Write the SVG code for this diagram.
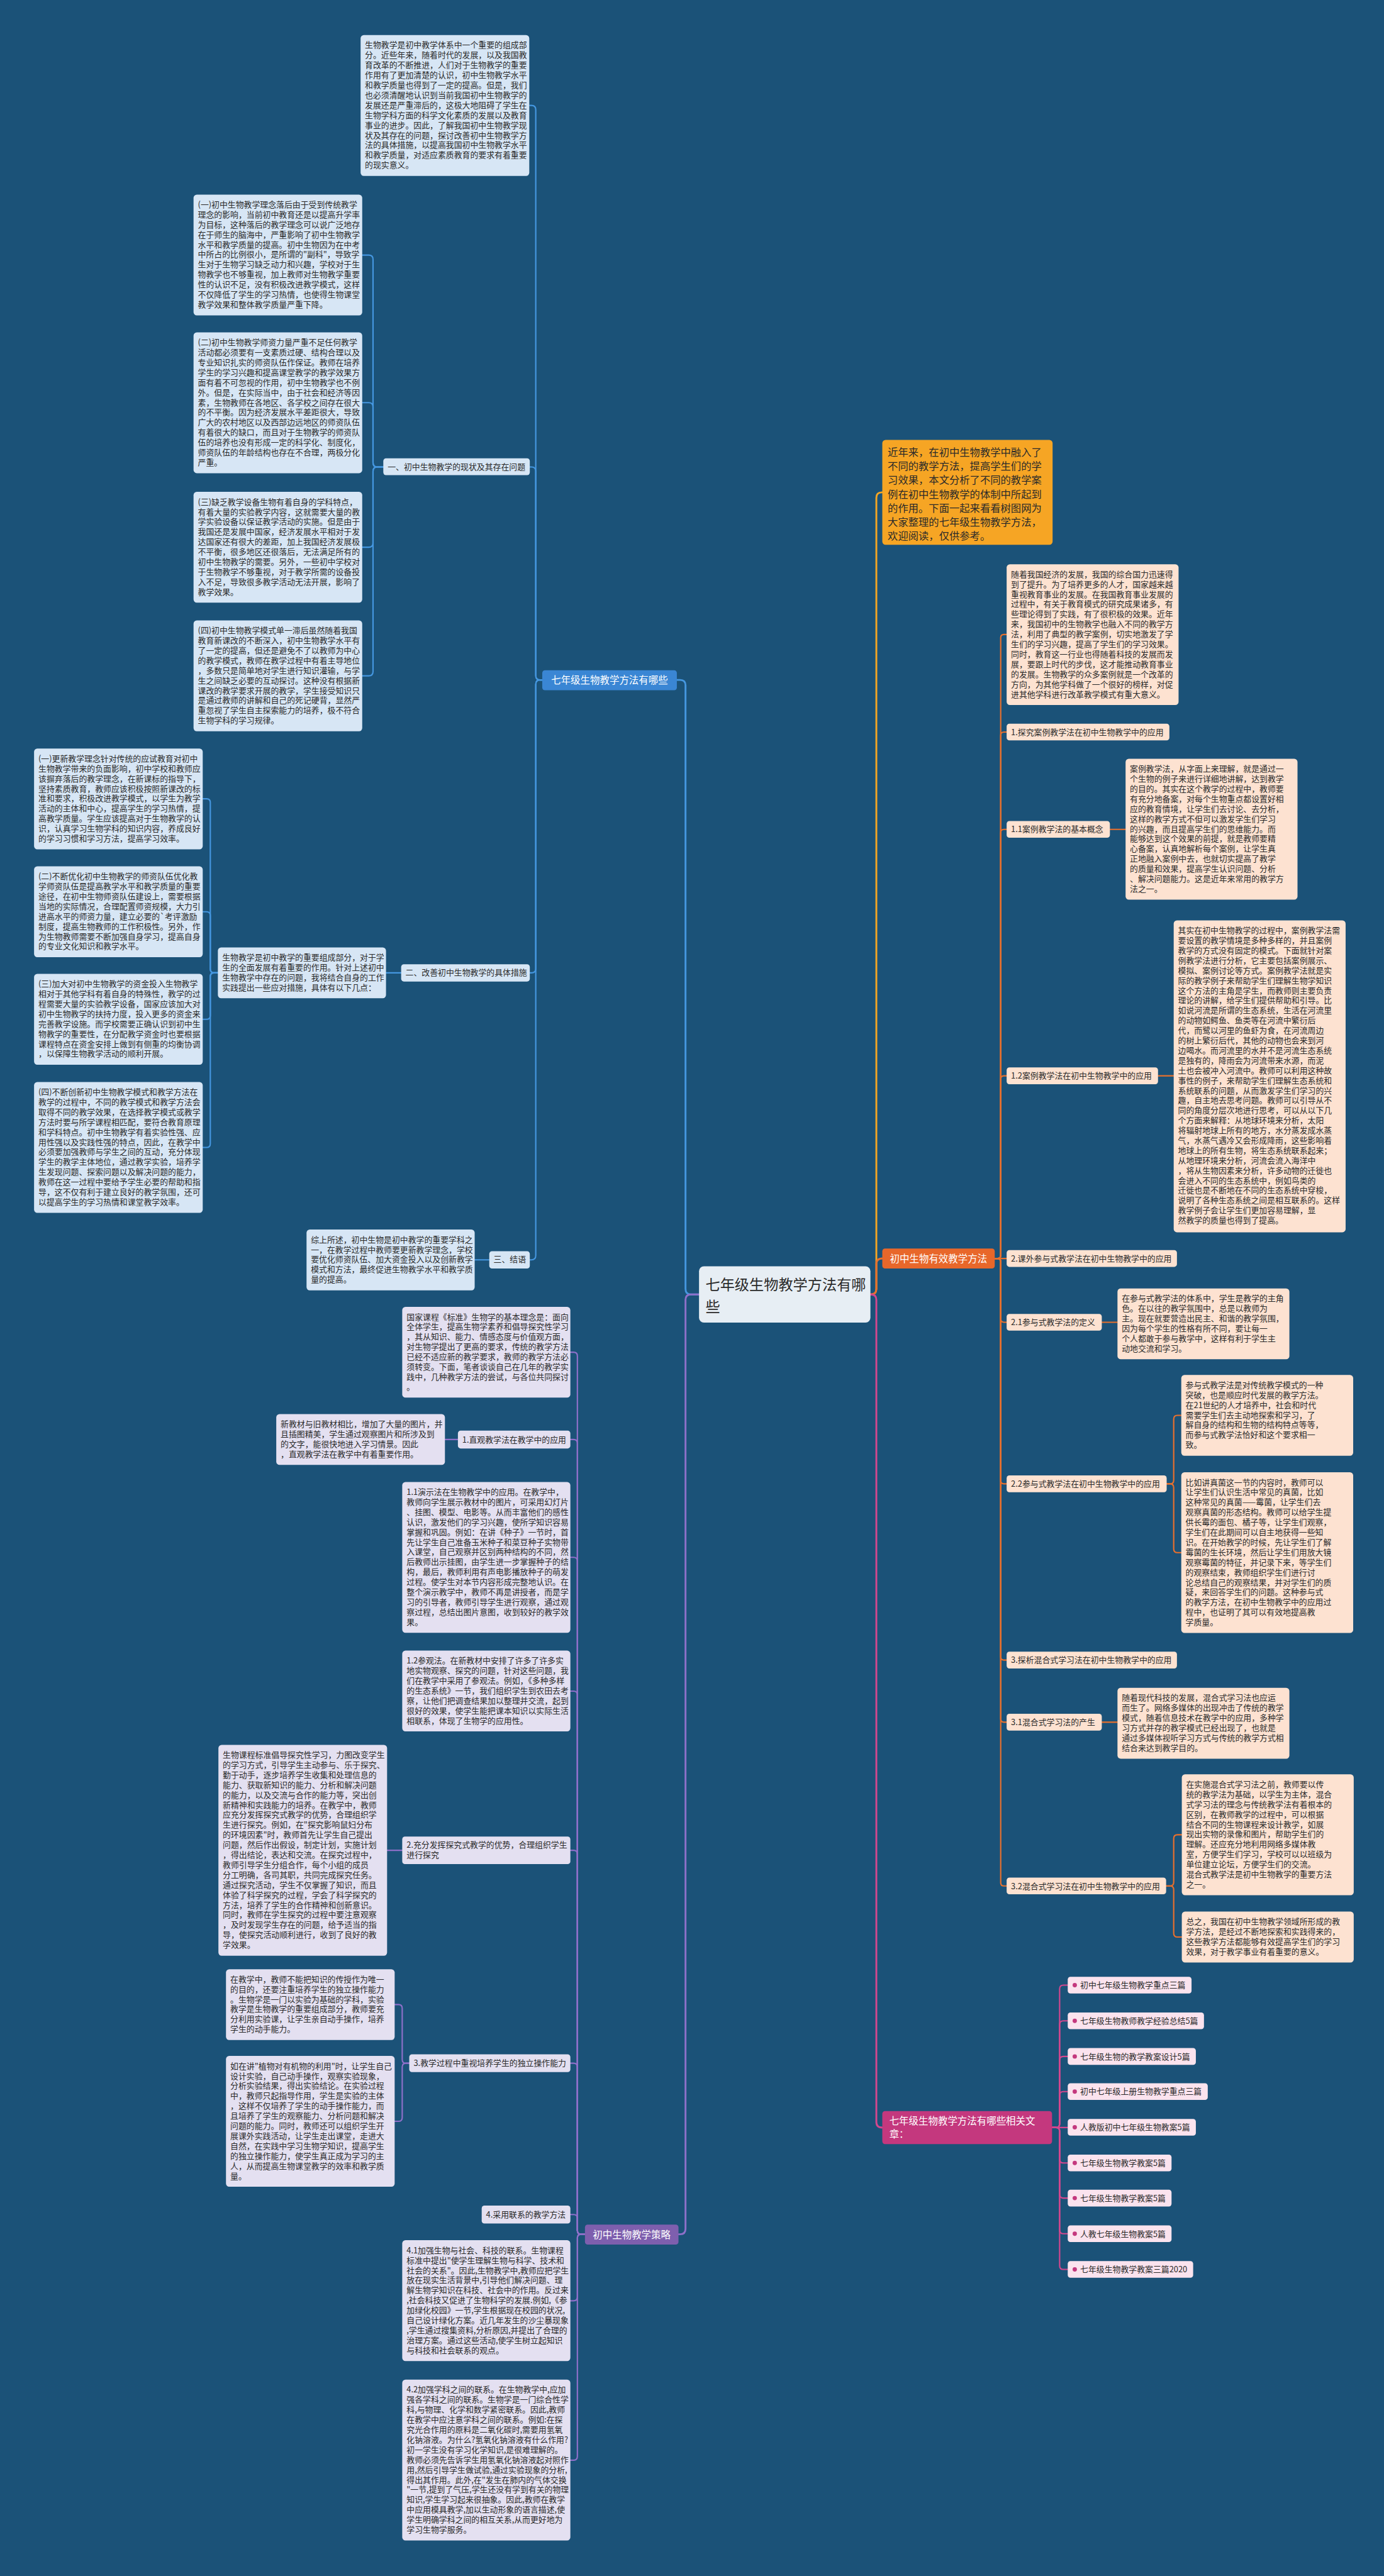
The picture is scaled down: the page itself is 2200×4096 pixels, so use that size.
<svg xmlns="http://www.w3.org/2000/svg" width="2200" height="4096" viewBox="0 0 2200 4096">
<defs>
<style>
.t{font-family:"Noto Sans CJK SC","Noto Sans",sans-serif;font-size:15px;fill:#2a2a2a}
.tw{font-family:"Noto Sans CJK SC","Noto Sans",sans-serif;font-size:18px;fill:#ffffff}
.bb{fill:#d7e6f5}
.pb{fill:#e4e0f1}
.ob{fill:#fde2d1}
.kb{fill:#fbe3ee}
.cb{fill:none;stroke-width:2.5;stroke-linecap:round}
.cB{stroke:#4597e0}
.cP{stroke:#8e70c9}
.cO{stroke:#e8702d}
.cK{stroke:#d4478e}
.cY{stroke:#f5a623}
.main{fill:none;stroke-width:3.4;stroke-linecap:round}
</style>
</defs>
<rect x="0" y="0" width="2200" height="4096" fill="#1b5278"/>
<g transform="scale(0.859375)">

<g id="connectors">
<path class="main cB" d="M1293 2395 H1278 Q1268 2395 1268 2385 V1268 Q1268 1258 1258 1258 H1252"/>
<path class="main cP" d="M1293 2395 H1278 Q1268 2395 1268 2405 V4124 Q1268 4134 1258 4134 H1255"/>
<path class="main cY" d="M1610 2395 H1611 Q1621 2395 1621 2385 V921 Q1621 911 1631 911 H1632"/>
<path class="main cO" d="M1610 2395 H1611 Q1621 2395 1621 2385 V2339 Q1621 2328.5 1632 2328.5"/>
<path class="main cK" d="M1610 2395 H1611 Q1621 2395 1621 2405 V3926 Q1621 3936.5 1632 3936.5"/>

<path class="cb cB" d="M1003 1258 H999 Q991 1258 991 1250 V203 Q991 195 983 195 H980"/>
<path class="cb cB" d="M1003 1258 H999 Q991 1258 991 1250 V872 Q991 864 983 864 H980"/>
<path class="cb cB" d="M1003 1258 H999 Q991 1258 991 1266 V1792 Q991 1800 983 1800 H980"/>
<path class="cb cB" d="M1003 1258 H999 Q991 1258 991 1266 V2323 Q991 2331 983 2331 H980"/>
<path class="cb cB" d="M709 864 H698 Q690 864 690 856 V480 Q690 472 682 472 H670"/>
<path class="cb cB" d="M709 864 H698 Q690 864 690 856 V753 Q690 745 682 745 H670"/>
<path class="cb cB" d="M709 864 H698 Q690 864 690 872 V1004.5 Q690 1012.5 682 1012.5 H670"/>
<path class="cb cB" d="M709 864 H698 Q690 864 690 872 V1242.5 Q690 1250.5 682 1250.5 H670"/>
<path class="cb cB" d="M742 1800 H714"/>
<path class="cb cB" d="M403 1800 H396 Q389 1800 389 1793 V1485 Q389 1478 382 1478 H375"/>
<path class="cb cB" d="M403 1800 H396 Q389 1800 389 1793 V1694 Q389 1687 382 1687 H375"/>
<path class="cb cB" d="M403 1800 H396 Q389 1800 389 1807 V1879 Q389 1886 382 1886 H375"/>
<path class="cb cB" d="M403 1800 H396 Q389 1800 389 1807 V2116 Q389 2123 382 2123 H375"/>
<path class="cb cB" d="M905 2331 H878"/>

<path class="cb cP" d="M1082 4134 H1075 Q1068 4134 1068 4127 V2509 Q1068 2502 1061 2502 H1055"/>
<path class="cb cP" d="M1082 4134 H1075 Q1068 4134 1068 4127 V2670.5 Q1068 2663.5 1061 2663.5 H1055"/>
<path class="cb cP" d="M1082 4134 H1075 Q1068 4134 1068 4127 V2888.5 Q1068 2881.5 1061 2881.5 H1055"/>
<path class="cb cP" d="M1082 4134 H1075 Q1068 4134 1068 4127 V3136 Q1068 3129 1061 3129 H1055"/>
<path class="cb cP" d="M1082 4134 H1075 Q1068 4134 1068 4127 V3430.5 Q1068 3423.5 1061 3423.5 H1055"/>
<path class="cb cP" d="M1082 4134 H1075 Q1068 4134 1068 4127 V3824.5 Q1068 3817.5 1061 3817.5 H1055"/>
<path class="cb cP" d="M1082 4134 H1075 Q1068 4134 1068 4127 V4104.5 Q1068 4097.5 1061 4097.5 H1055"/>
<path class="cb cP" d="M1082 4134 H1075 Q1068 4134 1068 4141 V4250 Q1068 4257 1061 4257 H1055"/>
<path class="cb cP" d="M1082 4134 H1075 Q1068 4134 1068 4141 V4545 Q1068 4552 1061 4552 H1055"/>
<path class="cb cP" d="M847 2663.5 H823"/>
<path class="cb cP" d="M744 3423.5 H716"/>
<path class="cb cP" d="M757 3817.5 H751 Q744 3817.5 744 3810.5 V3716 Q744 3709 737 3709 H730"/>
<path class="cb cP" d="M757 3817.5 H751 Q744 3817.5 744 3824.5 V3918 Q744 3925 737 3925 H730"/>

<path class="cb cO" d="M1840 2328.5 H1845 Q1851 2328.5 1851 2322.5 V1180 Q1851 1174 1857 1174 H1862"/>
<path class="cb cO" d="M1840 2328.5 H1845 Q1851 2328.5 1851 2322.5 V1360.5 Q1851 1354.5 1857 1354.5 H1862"/>
<path class="cb cO" d="M1840 2328.5 H1845 Q1851 2328.5 1851 2322.5 V1540.5 Q1851 1534.5 1857 1534.5 H1862"/>
<path class="cb cO" d="M1840 2328.5 H1845 Q1851 2328.5 1851 2322.5 V1996.5 Q1851 1990.5 1857 1990.5 H1862"/>
<path class="cb cO" d="M1840 2328.5 H1862"/>
<path class="cb cO" d="M1840 2328.5 H1845 Q1851 2328.5 1851 2334.5 V2440.5 Q1851 2446.5 1857 2446.5 H1862"/>
<path class="cb cO" d="M1840 2328.5 H1845 Q1851 2328.5 1851 2334.5 V2739.5 Q1851 2745.5 1857 2745.5 H1862"/>
<path class="cb cO" d="M1840 2328.5 H1845 Q1851 2328.5 1851 2334.5 V3065.5 Q1851 3071.5 1857 3071.5 H1862"/>
<path class="cb cO" d="M1840 2328.5 H1845 Q1851 2328.5 1851 2334.5 V3180.5 Q1851 3186.5 1857 3186.5 H1862"/>
<path class="cb cO" d="M1840 2328.5 H1845 Q1851 2328.5 1851 2334.5 V3483.5 Q1851 3489.5 1857 3489.5 H1862"/>
<path class="cb cO" d="M2053 1534.5 H2082"/>
<path class="cb cO" d="M2142 1990.5 H2171"/>
<path class="cb cO" d="M2038 2446.5 H2067"/>
<path class="cb cO" d="M2158 2745.5 H2164 Q2171 2745.5 2171 2738.5 V2625.75 Q2171 2618.75 2178 2618.75 H2185"/>
<path class="cb cO" d="M2158 2745.5 H2164 Q2171 2745.5 2171 2752.5 V2865.75 Q2171 2872.75 2178 2872.75 H2185"/>
<path class="cb cO" d="M2038 3186.5 H2067"/>
<path class="cb cO" d="M2157 3489.5 H2164 Q2171 3489.5 2171 3482.5 V3401.75 Q2171 3394.75 2178 3394.75 H2186"/>
<path class="cb cO" d="M2157 3489.5 H2164 Q2171 3489.5 2171 3496.5 V3577 Q2171 3584 2178 3584 H2186"/>

<path class="cb cK" d="M1946 3936.5 H1953 Q1960 3936.5 1960 3929.5 V3680 Q1960 3673 1967 3673 H1975"/>
<path class="cb cK" d="M1946 3936.5 H1953 Q1960 3936.5 1960 3929.5 V3746 Q1960 3739 1967 3739 H1975"/>
<path class="cb cK" d="M1946 3936.5 H1953 Q1960 3936.5 1960 3929.5 V3812 Q1960 3805 1967 3805 H1975"/>
<path class="cb cK" d="M1946 3936.5 H1953 Q1960 3936.5 1960 3929.5 V3877 Q1960 3870 1967 3870 H1975"/>
<path class="cb cK" d="M1946 3936.5 H1975"/>
<path class="cb cK" d="M1946 3936.5 H1953 Q1960 3936.5 1960 3943.5 V3995 Q1960 4002 1967 4002 H1975"/>
<path class="cb cK" d="M1946 3936.5 H1953 Q1960 3936.5 1960 3943.5 V4060 Q1960 4067 1967 4067 H1975"/>
<path class="cb cK" d="M1946 3936.5 H1953 Q1960 3936.5 1960 3943.5 V4126 Q1960 4133 1967 4133 H1975"/>
<path class="cb cK" d="M1946 3936.5 H1953 Q1960 3936.5 1960 3943.5 V4192 Q1960 4199 1967 4199 H1975"/>
</g>

<g id="center">
<rect x="1293" y="2343" width="317" height="104" rx="9" fill="#e7eef4"/>
<text x="1305" y="2387" style="font-family:'Noto Sans CJK SC',sans-serif;font-size:27px;fill:#2a2a2a"><tspan x="1305" y="2387">七年级生物教学方法有哪</tspan><tspan x="1305" y="2427">些</tspan></text>
</g>

<g id="n-blue">
<rect x="1003" y="1240" width="249" height="37" rx="5" fill="#3a86d4"/>
<text class="tw" x="1127.5" y="1265" text-anchor="middle">七年级生物教学方法有哪些</text>
</g>

<g id="n-blue-intro">
<rect class="bb" x="667" y="65" width="312" height="260.5" rx="6"/>
<text class="t" x="675" y="89"><tspan x="675">生物教学是初中教学体系中一个重要的组成部</tspan><tspan x="675" dy="18.5">分。近些年来，随着时代的发展，以及我国教</tspan><tspan x="675" dy="18.5">育改革的不断推进，人们对于生物教学的重要</tspan><tspan x="675" dy="18.5">作用有了更加清楚的认识，初中生物教学水平</tspan><tspan x="675" dy="18.5">和教学质量也得到了一定的提高。但是，我们</tspan><tspan x="675" dy="18.5">也必须清醒地认识到当前我国初中生物教学的</tspan><tspan x="675" dy="18.5">发展还是严重滞后的，这极大地阻碍了学生在</tspan><tspan x="675" dy="18.5">生物学科方面的科学文化素质的发展以及教育</tspan><tspan x="675" dy="18.5">事业的进步。因此，了解我国初中生物教学现</tspan><tspan x="675" dy="18.5">状及其存在的问题，探讨改善初中生物教学方</tspan><tspan x="675" dy="18.5">法的具体措施，以提高我国初中生物教学水平</tspan><tspan x="675" dy="18.5">和教学质量，对适应素质教育的要求有着重要</tspan><tspan x="675" dy="18.5">的现实意义。</tspan></text>
</g>

<g id="n-b1">
<rect class="bb" x="709" y="848" width="271" height="31" rx="5"/>
<text class="t" x="717" y="869">一、初中生物教学的现状及其存在问题</text>
</g>
<g id="n-b1-1">
<rect class="bb" x="358" y="360" width="312" height="223.5" rx="6"/>
<text class="t" x="366" y="384"><tspan x="366">(一)初中生物教学理念落后由于受到传统教学</tspan><tspan x="366" dy="18.5">理念的影响，当前初中教育还是以提高升学率</tspan><tspan x="366" dy="18.5">为目标，这种落后的教学理念可以说广泛地存</tspan><tspan x="366" dy="18.5">在于师生的脑海中，严重影响了初中生物教学</tspan><tspan x="366" dy="18.5">水平和教学质量的提高。初中生物因为在中考</tspan><tspan x="366" dy="18.5">中所占的比例很小，是所谓的"副科"，导致学</tspan><tspan x="366" dy="18.5">生对于生物学习缺乏动力和兴趣，学校对于生</tspan><tspan x="366" dy="18.5">物教学也不够重视，加上教师对生物教学重要</tspan><tspan x="366" dy="18.5">性的认识不足，没有积极改进教学模式，这样</tspan><tspan x="366" dy="18.5">不仅降低了学生的学习热情，也使得生物课堂</tspan><tspan x="366" dy="18.5">教学效果和整体教学质量严重下降。</tspan></text>
</g>
<g id="n-b1-2">
<rect class="bb" x="358" y="615" width="312" height="260.5" rx="6"/>
<text class="t" x="366" y="639"><tspan x="366">(二)初中生物教学师资力量严重不足任何教学</tspan><tspan x="366" dy="18.5">活动都必须要有一支素质过硬、结构合理以及</tspan><tspan x="366" dy="18.5">专业知识扎实的师资队伍作保证。教师在培养</tspan><tspan x="366" dy="18.5">学生的学习兴趣和提高课堂教学的教学效果方</tspan><tspan x="366" dy="18.5">面有着不可忽视的作用，初中生物教学也不例</tspan><tspan x="366" dy="18.5">外。但是，在实际当中，由于社会和经济等因</tspan><tspan x="366" dy="18.5">素，生物教师在各地区、各学校之间存在很大</tspan><tspan x="366" dy="18.5">的不平衡。因为经济发展水平差距很大，导致</tspan><tspan x="366" dy="18.5">广大的农村地区以及西部边远地区的师资队伍</tspan><tspan x="366" dy="18.5">有着很大的缺口，而且对于生物教学的师资队</tspan><tspan x="366" dy="18.5">伍的培养也没有形成一定的科学化、制度化，</tspan><tspan x="366" dy="18.5">师资队伍的年龄结构也存在不合理，两极分化</tspan><tspan x="366" dy="18.5">严重。</tspan></text>
</g>
<g id="n-b1-3">
<rect class="bb" x="358" y="910" width="312" height="205" rx="6"/>
<text class="t" x="366" y="934"><tspan x="366">(三)缺乏教学设备生物有着自身的学科特点，</tspan><tspan x="366" dy="18.5">有着大量的实验教学内容，这就需要大量的教</tspan><tspan x="366" dy="18.5">学实验设备以保证教学活动的实施。但是由于</tspan><tspan x="366" dy="18.5">我国还是发展中国家，经济发展水平相对于发</tspan><tspan x="366" dy="18.5">达国家还有很大的差距，加上我国经济发展极</tspan><tspan x="366" dy="18.5">不平衡，很多地区还很落后，无法满足所有的</tspan><tspan x="366" dy="18.5">初中生物教学的需要。另外，一些初中学校对</tspan><tspan x="366" dy="18.5">于生物教学不够重视，对于教学所需的设备投</tspan><tspan x="366" dy="18.5">入不足，导致很多教学活动无法开展，影响了</tspan><tspan x="366" dy="18.5">教学效果。</tspan></text>
</g>
<g id="n-b1-4">
<rect class="bb" x="358" y="1148" width="312" height="205" rx="6"/>
<text class="t" x="366" y="1172"><tspan x="366">(四)初中生物教学模式单一滞后虽然随着我国</tspan><tspan x="366" dy="18.5">教育新课改的不断深入，初中生物教学水平有</tspan><tspan x="366" dy="18.5">了一定的提高，但还是避免不了以教师为中心</tspan><tspan x="366" dy="18.5">的教学模式，教师在教学过程中有着主导地位</tspan><tspan x="366" dy="18.5">，多数只是简单地对学生进行知识灌输，与学</tspan><tspan x="366" dy="18.5">生之间缺乏必要的互动探讨。这种没有根据新</tspan><tspan x="366" dy="18.5">课改的教学要求开展的教学，学生接受知识只</tspan><tspan x="366" dy="18.5">是通过教师的讲解和自己的死记硬背，显然严</tspan><tspan x="366" dy="18.5">重忽视了学生自主探索能力的培养，极不符合</tspan><tspan x="366" dy="18.5">生物学科的学习规律。</tspan></text>
</g>

<g id="n-b2">
<rect class="bb" x="742" y="1784" width="238" height="32" rx="5"/>
<text class="t" x="750" y="1805">二、改善初中生物教学的具体措施</text>
</g>
<g id="n-b2-0">
<rect class="bb" x="403" y="1753" width="311" height="94" rx="6"/>
<text class="t" x="411" y="1777"><tspan x="411">生物教学是初中教学的重要组成部分，对于学</tspan><tspan x="411" dy="18.5">生的全面发展有着重要的作用。针对上述初中</tspan><tspan x="411" dy="18.5">生物教学中存在的问题，我将结合自身的工作</tspan><tspan x="411" dy="18.5">实践提出一些应对措施，具体有以下几点：</tspan></text>
</g>
<g id="n-b2-1">
<rect class="bb" x="63" y="1385" width="312" height="186.5" rx="6"/>
<text class="t" x="71" y="1409"><tspan x="71">(一)更新教学理念针对传统的应试教育对初中</tspan><tspan x="71" dy="18.5">生物教学带来的负面影响，初中学校和教师应</tspan><tspan x="71" dy="18.5">该摒弃落后的教学理念，在新课标的指导下，</tspan><tspan x="71" dy="18.5">坚持素质教育，教师应该积极按照新课改的标</tspan><tspan x="71" dy="18.5">准和要求，积极改进教学模式，以学生为教学</tspan><tspan x="71" dy="18.5">活动的主体和中心，提高学生的学习热情，提</tspan><tspan x="71" dy="18.5">高教学质量。学生应该提高对于生物教学的认</tspan><tspan x="71" dy="18.5">识，认真学习生物学科的知识内容，养成良好</tspan><tspan x="71" dy="18.5">的学习习惯和学习方法，提高学习效率。</tspan></text>
</g>
<g id="n-b2-2">
<rect class="bb" x="63" y="1603" width="312" height="168" rx="6"/>
<text class="t" x="71" y="1627"><tspan x="71">(二)不断优化初中生物教学的师资队伍优化教</tspan><tspan x="71" dy="18.5">学师资队伍是提高教学水平和教学质量的重要</tspan><tspan x="71" dy="18.5">途径，在初中生物师资队伍建设上，需要根据</tspan><tspan x="71" dy="18.5">当地的实际情况，合理配置师资规模，大力引</tspan><tspan x="71" dy="18.5">进高水平的师资力量，建立必要的`考评激励</tspan><tspan x="71" dy="18.5">制度，提高生物教师的工作积极性。另外，作</tspan><tspan x="71" dy="18.5">为生物教师需要不断加强自身学习，提高自身</tspan><tspan x="71" dy="18.5">的专业文化知识和教学水平。</tspan></text>
</g>
<g id="n-b2-3">
<rect class="bb" x="63" y="1802" width="312" height="168" rx="6"/>
<text class="t" x="71" y="1826"><tspan x="71">(三)加大对初中生物教学的资金投入生物教学</tspan><tspan x="71" dy="18.5">相对于其他学科有着自身的特殊性，教学的过</tspan><tspan x="71" dy="18.5">程需要大量的实验教学设备，国家应该加大对</tspan><tspan x="71" dy="18.5">初中生物教学的扶持力度，投入更多的资金来</tspan><tspan x="71" dy="18.5">完善教学设施。而学校需要正确认识到初中生</tspan><tspan x="71" dy="18.5">物教学的重要性，在分配教学资金时也要根据</tspan><tspan x="71" dy="18.5">课程特点在资金安排上做到有侧重的均衡协调</tspan><tspan x="71" dy="18.5">，以保障生物教学活动的顺利开展。</tspan></text>
</g>
<g id="n-b2-4">
<rect class="bb" x="63" y="2002" width="312" height="242" rx="6"/>
<text class="t" x="71" y="2026"><tspan x="71">(四)不断创新初中生物教学模式和教学方法在</tspan><tspan x="71" dy="18.5">教学的过程中，不同的教学模式和教学方法会</tspan><tspan x="71" dy="18.5">取得不同的教学效果，在选择教学模式或教学</tspan><tspan x="71" dy="18.5">方法时要与所学课程相匹配，要符合教育原理</tspan><tspan x="71" dy="18.5">和学科特点。初中生物教学有着实验性强、应</tspan><tspan x="71" dy="18.5">用性强以及实践性强的特点，因此，在教学中</tspan><tspan x="71" dy="18.5">必须要加强教师与学生之间的互动，充分体现</tspan><tspan x="71" dy="18.5">学生的教学主体地位，通过教学实验，培养学</tspan><tspan x="71" dy="18.5">生发现问题、探索问题以及解决问题的能力，</tspan><tspan x="71" dy="18.5">教师在这一过程中要给予学生必要的帮助和指</tspan><tspan x="71" dy="18.5">导，这不仅有利于建立良好的教学氛围，还可</tspan><tspan x="71" dy="18.5">以提高学生的学习热情和课堂教学效率。</tspan></text>
</g>

<g id="n-b3">
<rect class="bb" x="905" y="2315" width="75" height="32" rx="5"/>
<text class="t" x="913" y="2336">三、结语</text>
</g>
<g id="n-b3-1">
<rect class="bb" x="567" y="2275" width="311" height="112.5" rx="6"/>
<text class="t" x="575" y="2299"><tspan x="575">综上所述，初中生物是初中教学的重要学科之</tspan><tspan x="575" dy="18.5">一，在教学过程中教师要更新教学理念，学校</tspan><tspan x="575" dy="18.5">要优化师资队伍、加大资金投入以及创新教学</tspan><tspan x="575" dy="18.5">模式和方法，最终促进生物教学水平和教学质</tspan><tspan x="575" dy="18.5">量的提高。</tspan></text>
</g>

<g id="n-purple">
<rect x="1082" y="4116" width="173" height="37" rx="5" fill="#7e5fae"/>
<text class="tw" x="1168.5" y="4141" text-anchor="middle">初中生物教学策略</text>
</g>
<g id="n-p0">
<rect class="pb" x="744" y="2418" width="311" height="168" rx="6"/>
<text class="t" x="752" y="2442"><tspan x="752">国家课程《标准》生物学的基本理念是：面向</tspan><tspan x="752" dy="18.5">全体学生，提高生物学素养和倡导探究性学习</tspan><tspan x="752" dy="18.5">，其从知识、能力、情感态度与价值观方面，</tspan><tspan x="752" dy="18.5">对生物学提出了更高的要求，传统的教学方法</tspan><tspan x="752" dy="18.5">已经不适应新的教学要求，教师的教学方法必</tspan><tspan x="752" dy="18.5">须转变。下面，笔者谈谈自己在几年的教学实</tspan><tspan x="752" dy="18.5">践中，几种教学方法的尝试，与各位共同探讨</tspan><tspan x="752" dy="18.5">。</tspan></text>
</g>
<g id="n-p1">
<rect class="pb" x="847" y="2647" width="208" height="33" rx="5"/>
<text class="t" x="855" y="2669">1.直观教学法在教学中的应用</text>
</g>
<g id="n-p1-0">
<rect class="pb" x="511" y="2616.5" width="312" height="94" rx="6"/>
<text class="t" x="519" y="2640.5"><tspan x="519">新教材与旧教材相比，增加了大量的图片，并</tspan><tspan x="519" dy="18.5">且插图精美，学生通过观察图片和所涉及到</tspan><tspan x="519" dy="18.5">的文字，能很快地进入学习情景。因此</tspan><tspan x="519" dy="18.5">，直观教学法在教学中有着重要作用。</tspan></text>
</g>
<g id="n-p1-1">
<rect class="pb" x="744" y="2742" width="311" height="279" rx="6"/>
<text class="t" x="752" y="2766"><tspan x="752">1.1演示法在生物教学中的应用。在教学中，</tspan><tspan x="752" dy="18.5">教师向学生展示教材中的图片，可采用幻灯片</tspan><tspan x="752" dy="18.5">、挂图、模型、电影等。从而丰富他们的感性</tspan><tspan x="752" dy="18.5">认识，激发他们的学习兴趣，使所学知识容易</tspan><tspan x="752" dy="18.5">掌握和巩固。例如：在讲《种子》一节时，首</tspan><tspan x="752" dy="18.5">先让学生自己准备玉米种子和菜豆种子实物带</tspan><tspan x="752" dy="18.5">入课堂，自己观察并区别两种结构的不同，然</tspan><tspan x="752" dy="18.5">后教师出示挂图，由学生进一步掌握种子的结</tspan><tspan x="752" dy="18.5">构，最后，教师利用有声电影播放种子的萌发</tspan><tspan x="752" dy="18.5">过程。使学生对本节内容形成完整地认识。在</tspan><tspan x="752" dy="18.5">整个演示教学中，教师不再是讲授者，而是学</tspan><tspan x="752" dy="18.5">习的引导者，教师引导学生进行观察，通过观</tspan><tspan x="752" dy="18.5">察过程，总结出图片意图，收到较好的教学效</tspan><tspan x="752" dy="18.5">果。</tspan></text>
</g>
<g id="n-p1-2">
<rect class="pb" x="744" y="3054" width="311" height="149.5" rx="6"/>
<text class="t" x="752" y="3078"><tspan x="752">1.2参观法。在新教材中安排了许多了许多实</tspan><tspan x="752" dy="18.5">地实物观察、探究的问题，针对这些问题，我</tspan><tspan x="752" dy="18.5">们在教学中采用了参观法。例如，《多种多样</tspan><tspan x="752" dy="18.5">的生态系统》一节，我们组织学生到农田去考</tspan><tspan x="752" dy="18.5">察，让他们把调查结果加以整理并交流，起到</tspan><tspan x="752" dy="18.5">很好的效果，使学生能把课本知识以实际生活</tspan><tspan x="752" dy="18.5">相联系，体现了生物学的应用性。</tspan></text>
</g>
<g id="n-p2">
<rect class="pb" x="744" y="3398" width="311" height="51" rx="5"/>
<text class="t" x="752" y="3419"><tspan x="752">2.充分发挥探究式教学的优势，合理组织学生</tspan><tspan x="752" dy="18.5">进行探究</tspan></text>
</g>
<g id="n-p2-0">
<rect class="pb" x="404" y="3228.5" width="312" height="390" rx="6"/>
<text class="t" x="412" y="3252.5"><tspan x="412">生物课程标准倡导探究性学习，力图改变学生</tspan><tspan x="412" dy="18.5">的学习方式，引导学生主动参与、乐于探究、</tspan><tspan x="412" dy="18.5">勤于动手，逐步培养学生收集和处理信息的</tspan><tspan x="412" dy="18.5">能力、获取新知识的能力、分析和解决问题</tspan><tspan x="412" dy="18.5">的能力，以及交流与合作的能力等，突出创</tspan><tspan x="412" dy="18.5">新精神和实践能力的培养。在教学中，教师</tspan><tspan x="412" dy="18.5">应充分发挥探究式教学的优势，合理组织学</tspan><tspan x="412" dy="18.5">生进行探究。例如，在"探究影响鼠妇分布</tspan><tspan x="412" dy="18.5">的环境因素"时，教师首先让学生自己提出</tspan><tspan x="412" dy="18.5">问题，然后作出假设，制定计划，实施计划</tspan><tspan x="412" dy="18.5">，得出结论，表达和交流。在探究过程中，</tspan><tspan x="412" dy="18.5">教师引导学生分组合作，每个小组的成员</tspan><tspan x="412" dy="18.5">分工明确，各司其职，共同完成探究任务。</tspan><tspan x="412" dy="18.5">通过探究活动，学生不仅掌握了知识，而且</tspan><tspan x="412" dy="18.5">体验了科学探究的过程，学会了科学探究的</tspan><tspan x="412" dy="18.5">方法，培养了学生的合作精神和创新意识。</tspan><tspan x="412" dy="18.5">同时，教师在学生探究的过程中要注意观察</tspan><tspan x="412" dy="18.5">，及时发现学生存在的问题，给予适当的指</tspan><tspan x="412" dy="18.5">导，使探究活动顺利进行，收到了良好的教</tspan><tspan x="412" dy="18.5">学效果。</tspan></text>
</g>
<g id="n-p3">
<rect class="pb" x="757" y="3801" width="298" height="33" rx="5"/>
<text class="t" x="765" y="3823">3.教学过程中重视培养学生的独立操作能力</text>
</g>
<g id="n-p3-1">
<rect class="pb" x="418" y="3643.5" width="312" height="131" rx="6"/>
<text class="t" x="426" y="3667.5"><tspan x="426">在教学中，教师不能把知识的传授作为唯一</tspan><tspan x="426" dy="18.5">的目的，还要注重培养学生的独立操作能力</tspan><tspan x="426" dy="18.5">。生物学是一门以实验为基础的学科，实验</tspan><tspan x="426" dy="18.5">教学是生物教学的重要组成部分，教师要充</tspan><tspan x="426" dy="18.5">分利用实验课，让学生亲自动手操作，培养</tspan><tspan x="426" dy="18.5">学生的动手能力。</tspan></text>
</g>
<g id="n-p3-2">
<rect class="pb" x="418" y="3804" width="312" height="242" rx="6"/>
<text class="t" x="426" y="3828"><tspan x="426">如在讲"植物对有机物的利用"时，让学生自己</tspan><tspan x="426" dy="18.5">设计实验，自己动手操作，观察实验现象，</tspan><tspan x="426" dy="18.5">分析实验结果，得出实验结论。在实验过程</tspan><tspan x="426" dy="18.5">中，教师只起指导作用，学生是实验的主体</tspan><tspan x="426" dy="18.5">，这样不仅培养了学生的动手操作能力，而</tspan><tspan x="426" dy="18.5">且培养了学生的观察能力、分析问题和解决</tspan><tspan x="426" dy="18.5">问题的能力。同时，教师还可以组织学生开</tspan><tspan x="426" dy="18.5">展课外实践活动，让学生走出课堂，走进大</tspan><tspan x="426" dy="18.5">自然，在实践中学习生物学知识，提高学生</tspan><tspan x="426" dy="18.5">的独立操作能力，使学生真正成为学习的主</tspan><tspan x="426" dy="18.5">人，从而提高生物课堂教学的效率和教学质</tspan><tspan x="426" dy="18.5">量。</tspan></text>
</g>
<g id="n-p4">
<rect class="pb" x="891" y="4081" width="164" height="33" rx="5"/>
<text class="t" x="899" y="4103">4.采用联系的教学方法</text>
</g>
<g id="n-p4-1">
<rect class="pb" x="744" y="4145" width="311" height="223.5" rx="6"/>
<text class="t" x="752" y="4169"><tspan x="752">4.1加强生物与社会、科技的联系。生物课程</tspan><tspan x="752" dy="18.5">标准中提出"使学生理解生物与科学、技术和</tspan><tspan x="752" dy="18.5">社会的关系"。因此,生物教学中,教师应把学生</tspan><tspan x="752" dy="18.5">放在现实生活背景中,引导他们解决问题、理</tspan><tspan x="752" dy="18.5">解生物学知识在科技、社会中的作用。反过来</tspan><tspan x="752" dy="18.5">,社会科技又促进了生物科学的发展.例如,《参</tspan><tspan x="752" dy="18.5">加绿化校园》一节,学生根据现在校园的状况,</tspan><tspan x="752" dy="18.5">自己设计绿化方案。近几年发生的沙尘暴现象</tspan><tspan x="752" dy="18.5">,学生通过搜集资料,分析原因,并提出了合理的</tspan><tspan x="752" dy="18.5">治理方案。通过这些活动,使学生树立起知识</tspan><tspan x="752" dy="18.5">与科技和社会联系的观点。</tspan></text>
</g>
<g id="n-p4-2">
<rect class="pb" x="744" y="4403" width="311" height="297.5" rx="6"/>
<text class="t" x="752" y="4427"><tspan x="752">4.2加强学科之间的联系。在生物教学中,应加</tspan><tspan x="752" dy="18.5">强各学科之间的联系。生物学是一门综合性学</tspan><tspan x="752" dy="18.5">科,与物理、化学和数学紧密联系。因此,教师</tspan><tspan x="752" dy="18.5">在教学中应注意学科之间的联系。例如:在探</tspan><tspan x="752" dy="18.5">究光合作用的原料是二氧化碳时,需要用氢氧</tspan><tspan x="752" dy="18.5">化钠溶液。为什么?氢氧化钠溶液有什么作用?</tspan><tspan x="752" dy="18.5">初一学生没有学习化学知识,是很难理解的。</tspan><tspan x="752" dy="18.5">教师必须先告诉学生用氢氧化钠溶液起对照作</tspan><tspan x="752" dy="18.5">用,然后引导学生做试验,通过实验现象的分析,</tspan><tspan x="752" dy="18.5">得出其作用。此外,在"发生在肺内的气体交换</tspan><tspan x="752" dy="18.5">"一节,提到了气压,学生还没有学到有关的物理</tspan><tspan x="752" dy="18.5">知识,学生学习起来很抽象。因此,教师在教学</tspan><tspan x="752" dy="18.5">中应用模具教学,加以生动形象的语言描述,使</tspan><tspan x="752" dy="18.5">学生明确学科之间的相互关系,从而更好地为</tspan><tspan x="752" dy="18.5">学习生物学服务。</tspan></text>
</g>

<g id="n-orange-intro">
<rect x="1632" y="814" width="315" height="194" rx="6" fill="#f6a524"/>
<text x="1642" y="844" style="font-family:'Noto Sans CJK SC',sans-serif;font-size:19px;fill:#2a2a2a"><tspan x="1642">近年来，在初中生物教学中融入了</tspan><tspan x="1642" dy="25.7">不同的教学方法，提高学生们的学</tspan><tspan x="1642" dy="25.7">习效果，本文分析了不同的教学案</tspan><tspan x="1642" dy="25.7">例在初中生物教学的体制中所起到</tspan><tspan x="1642" dy="25.7">的作用。下面一起来看看树图网为</tspan><tspan x="1642" dy="25.7">大家整理的七年级生物教学方法，</tspan><tspan x="1642" dy="25.7">欢迎阅读，仅供参考。</tspan></text>
</g>

<g id="n-orange">
<rect x="1632" y="2310" width="208" height="37" rx="5" fill="#e8672a"/>
<text class="tw" x="1736" y="2335" text-anchor="middle">初中生物有效教学方法</text>
</g>
<g id="n-o0">
<rect class="ob" x="1862" y="1044" width="318" height="260.5" rx="6"/>
<text class="t" x="1870" y="1068"><tspan x="1870">随着我国经济的发展，我国的综合国力迅速得</tspan><tspan x="1870" dy="18.5">到了提升。为了培养更多的人才，国家越来越</tspan><tspan x="1870" dy="18.5">重视教育事业的发展。在我国教育事业发展的</tspan><tspan x="1870" dy="18.5">过程中，有关于教育模式的研究成果诸多，有</tspan><tspan x="1870" dy="18.5">些理论得到了实践，有了很积极的效果。近年</tspan><tspan x="1870" dy="18.5">来，我国初中的生物教学也融入不同的教学方</tspan><tspan x="1870" dy="18.5">法，利用了典型的教学案例，切实地激发了学</tspan><tspan x="1870" dy="18.5">生们的学习兴趣，提高了学生们的学习效果。</tspan><tspan x="1870" dy="18.5">同时，教育这一行业也得随着科技的发展而发</tspan><tspan x="1870" dy="18.5">展，要跟上时代的步伐，这才能推动教育事业</tspan><tspan x="1870" dy="18.5">的发展。生物教学的众多案例就是一个改革的</tspan><tspan x="1870" dy="18.5">方向，为其他学科做了一个很好的榜样，对促</tspan><tspan x="1870" dy="18.5">进其他学科进行改革教学模式有重大意义。</tspan></text>
</g>
<g id="n-o1">
<rect class="ob" x="1862" y="1339" width="301" height="31" rx="5"/>
<text class="t" x="1870" y="1360">1.探究案例教学法在初中生物教学中的应用</text>
</g>
<g id="n-o11">
<rect class="ob" x="1862" y="1519" width="191" height="31" rx="5"/>
<text class="t" x="1870" y="1540">1.1案例教学法的基本概念</text>
</g>
<g id="n-o11-b">
<rect class="ob" x="2082" y="1404" width="318" height="260.5" rx="6"/>
<text class="t" x="2090" y="1428"><tspan x="2090">案例教学法，从字面上来理解，就是通过一</tspan><tspan x="2090" dy="18.5">个生物的例子来进行详细地讲解，达到教学</tspan><tspan x="2090" dy="18.5">的目的。其实在这个教学的过程中，教师要</tspan><tspan x="2090" dy="18.5">有充分地备案，对每个生物重点都设置好相</tspan><tspan x="2090" dy="18.5">应的教育情境，让学生们去讨论、去分析，</tspan><tspan x="2090" dy="18.5">这样的教学方式不但可以激发学生们学习</tspan><tspan x="2090" dy="18.5">的兴趣，而且提高学生们的思维能力。而</tspan><tspan x="2090" dy="18.5">能够达到这个效果的前提，就是教师要精</tspan><tspan x="2090" dy="18.5">心备案，认真地解析每个案例，让学生真</tspan><tspan x="2090" dy="18.5">正地融入案例中去，也就切实提高了教学</tspan><tspan x="2090" dy="18.5">的质量和效果，提高学生认识问题、分析</tspan><tspan x="2090" dy="18.5">、解决问题能力。这是近年来常用的教学方</tspan><tspan x="2090" dy="18.5">法之一。</tspan></text>
</g>
<g id="n-o12">
<rect class="ob" x="1862" y="1975" width="280" height="31" rx="5"/>
<text class="t" x="1870" y="1996">1.2案例教学法在初中生物教学中的应用</text>
</g>
<g id="n-o12-b">
<rect class="ob" x="2171" y="1703" width="318" height="577" rx="6"/>
<text class="t" x="2179" y="1727"><tspan x="2179">其实在初中生物教学的过程中，案例教学法需</tspan><tspan x="2179" dy="18.5">要设置的教学情境是多种多样的，并且案例</tspan><tspan x="2179" dy="18.5">教学的方式没有固定的模式。下面就针对案</tspan><tspan x="2179" dy="18.5">例教学法进行分析，它主要包括案例展示、</tspan><tspan x="2179" dy="18.5">模拟、案例讨论等方式。案例教学法就是实</tspan><tspan x="2179" dy="18.5">际的教学例子来帮助学生们理解生物学知识</tspan><tspan x="2179" dy="18.5">这个方法的主角是学生，而教师则主要负责</tspan><tspan x="2179" dy="18.5">理论的讲解，给学生们提供帮助和引导。比</tspan><tspan x="2179" dy="18.5">如说河流是所谓的生态系统，生活在河流里</tspan><tspan x="2179" dy="18.5">的动物如鳄鱼、鱼类等在河流中繁衍后</tspan><tspan x="2179" dy="18.5">代，而鹭以河里的鱼虾为食，在河流周边</tspan><tspan x="2179" dy="18.5">的树上繁衍后代，其他的动物也会来到河</tspan><tspan x="2179" dy="18.5">边喝水。而河流里的水并不是河流生态系统</tspan><tspan x="2179" dy="18.5">是独有的，降雨会为河流带来水源，而泥</tspan><tspan x="2179" dy="18.5">土也会被冲入河流中。教师可以利用这种故</tspan><tspan x="2179" dy="18.5">事性的例子，来帮助学生们理解生态系统和</tspan><tspan x="2179" dy="18.5">系统联系的问题，从而激发学生们学习的兴</tspan><tspan x="2179" dy="18.5">趣，自主地去思考问题。教师可以引导从不</tspan><tspan x="2179" dy="18.5">同的角度分层次地进行思考，可以从以下几</tspan><tspan x="2179" dy="18.5">个方面来解释：从地球环境来分析，太阳</tspan><tspan x="2179" dy="18.5">将辐射地球上所有的地方，水分蒸发成水蒸</tspan><tspan x="2179" dy="18.5">气，水蒸气遇冷又会形成降雨，这些影响着</tspan><tspan x="2179" dy="18.5">地球上的所有生物，将生态系统联系起来；</tspan><tspan x="2179" dy="18.5">从地理环境来分析，河流会流入海洋中</tspan><tspan x="2179" dy="18.5">，将从生物因素来分析，许多动物的迁徙也</tspan><tspan x="2179" dy="18.5">会进入不同的生态系统中，例如鸟类的</tspan><tspan x="2179" dy="18.5">迁徙也是不断地在不同的生态系统中穿梭，</tspan><tspan x="2179" dy="18.5">说明了各种生态系统之间是相互联系的。这样</tspan><tspan x="2179" dy="18.5">教学例子会让学生们更加容易理解，显</tspan><tspan x="2179" dy="18.5">然教学的质量也得到了提高。</tspan></text>
</g>
<g id="n-o2">
<rect class="ob" x="1862" y="2313" width="315" height="31" rx="5"/>
<text class="t" x="1870" y="2334">2.课外参与式教学法在初中生物教学中的应用</text>
</g>
<g id="n-o21">
<rect class="ob" x="1862" y="2431" width="176" height="31" rx="5"/>
<text class="t" x="1870" y="2452">2.1参与式教学法的定义</text>
</g>
<g id="n-o21-b">
<rect class="ob" x="2067" y="2384" width="318" height="131" rx="6"/>
<text class="t" x="2075" y="2408"><tspan x="2075">在参与式教学法的体系中，学生是教学的主角</tspan><tspan x="2075" dy="18.5">色。在以往的教学氛围中，总是以教师为</tspan><tspan x="2075" dy="18.5">主。现在就要营造出民主、和谐的教学氛围，</tspan><tspan x="2075" dy="18.5">因为每个学生的性格有所不同，要让每一</tspan><tspan x="2075" dy="18.5">个人都敢于参与教学中，这样有利于学生主</tspan><tspan x="2075" dy="18.5">动地交流和学习。</tspan></text>
</g>
<g id="n-o22">
<rect class="ob" x="1862" y="2730" width="296" height="31" rx="5"/>
<text class="t" x="1870" y="2751">2.2参与式教学法在初中生物教学中的应用</text>
</g>
<g id="n-o22-a">
<rect class="ob" x="2185" y="2544" width="318" height="149.5" rx="6"/>
<text class="t" x="2193" y="2568"><tspan x="2193">参与式教学法是对传统教学模式的一种</tspan><tspan x="2193" dy="18.5">突破，也是顺应时代发展的教学方法。</tspan><tspan x="2193" dy="18.5">在21世纪的人才培养中，社会和时代</tspan><tspan x="2193" dy="18.5">需要学生们去主动地探索和学习，了</tspan><tspan x="2193" dy="18.5">解自身的结构和生物的结构特点等等，</tspan><tspan x="2193" dy="18.5">而参与式教学法恰好和这个要求相一</tspan><tspan x="2193" dy="18.5">致。</tspan></text>
</g>
<g id="n-o22-b">
<rect class="ob" x="2185" y="2724" width="318" height="297.5" rx="6"/>
<text class="t" x="2193" y="2748"><tspan x="2193">比如讲真菌这一节的内容时，教师可以</tspan><tspan x="2193" dy="18.5">让学生们认识生活中常见的真菌，比如</tspan><tspan x="2193" dy="18.5">这种常见的真菌——霉菌，让学生们去</tspan><tspan x="2193" dy="18.5">观察真菌的形态结构。教师可以给学生提</tspan><tspan x="2193" dy="18.5">供长霉的面包、橘子等，让学生们观察，</tspan><tspan x="2193" dy="18.5">学生们在此期间可以自主地获得一些知</tspan><tspan x="2193" dy="18.5">识。在开始教学的时候，先让学生们了解</tspan><tspan x="2193" dy="18.5">霉菌的生长环境，然后让学生们用放大镜</tspan><tspan x="2193" dy="18.5">观察霉菌的特征，并记录下来，等学生们</tspan><tspan x="2193" dy="18.5">的观察结束，教师组织学生们进行讨</tspan><tspan x="2193" dy="18.5">论总结自己的观察结果，并对学生们的质</tspan><tspan x="2193" dy="18.5">疑，来回答学生们的问题。这种参与式</tspan><tspan x="2193" dy="18.5">的教学方法，在初中生物教学中的应用过</tspan><tspan x="2193" dy="18.5">程中，也证明了其可以有效地提高教</tspan><tspan x="2193" dy="18.5">学质量。</tspan></text>
</g>
<g id="n-o3">
<rect class="ob" x="1862" y="3056" width="315" height="31" rx="5"/>
<text class="t" x="1870" y="3077">3.探析混合式学习法在初中生物教学中的应用</text>
</g>
<g id="n-o31">
<rect class="ob" x="1862" y="3171" width="176" height="31" rx="5"/>
<text class="t" x="1870" y="3192">3.1混合式学习法的产生</text>
</g>
<g id="n-o31-b">
<rect class="ob" x="2067" y="3123" width="318" height="131" rx="6"/>
<text class="t" x="2075" y="3147"><tspan x="2075">随着现代科技的发展，混合式学习法也应运</tspan><tspan x="2075" dy="18.5">而生了。网络多媒体的出现冲击了传统的教学</tspan><tspan x="2075" dy="18.5">模式，随着信息技术在教学中的应用，多种学</tspan><tspan x="2075" dy="18.5">习方式并存的教学模式已经出现了，也就是</tspan><tspan x="2075" dy="18.5">通过多媒体视听学习方式与传统的教学方式相</tspan><tspan x="2075" dy="18.5">结合来达到教学目的。</tspan></text>
</g>
<g id="n-o32">
<rect class="ob" x="1862" y="3474" width="295" height="31" rx="5"/>
<text class="t" x="1870" y="3495">3.2混合式学习法在初中生物教学中的应用</text>
</g>
<g id="n-o32-a">
<rect class="ob" x="2186" y="3283" width="318" height="223.5" rx="6"/>
<text class="t" x="2194" y="3307"><tspan x="2194">在实施混合式学习法之前，教师要以传</tspan><tspan x="2194" dy="18.5">统的教学法为基础，以学生为主体，混合</tspan><tspan x="2194" dy="18.5">式学习法的理念与传统教学法有着根本的</tspan><tspan x="2194" dy="18.5">区别，在教师教学的过程中，可以根据</tspan><tspan x="2194" dy="18.5">结合不同的生物课程来设计教学，如展</tspan><tspan x="2194" dy="18.5">现出实物的录像和图片，帮助学生们的</tspan><tspan x="2194" dy="18.5">理解。还应充分地利用网络多媒体教</tspan><tspan x="2194" dy="18.5">室，方便学生们学习，学校可以以班级为</tspan><tspan x="2194" dy="18.5">单位建立论坛，方便学生们的交流。</tspan><tspan x="2194" dy="18.5">混合式教学法是初中生物教学的重要方法</tspan><tspan x="2194" dy="18.5">之一。</tspan></text>
</g>
<g id="n-o32-b">
<rect class="ob" x="2186" y="3537" width="318" height="94" rx="6"/>
<text class="t" x="2194" y="3561"><tspan x="2194">总之，我国在初中生物教学领域所形成的教</tspan><tspan x="2194" dy="18.5">学方法，是经过不断地探索和实践得来的，</tspan><tspan x="2194" dy="18.5">这些教学方法都能够有效提高学生们的学习</tspan><tspan x="2194" dy="18.5">效果，对于教学事业有着重要的意义。</tspan></text>
</g>

<g id="n-pink">
<rect x="1632" y="3906" width="314" height="61" rx="5" fill="#c4387e"/>
<text class="tw" x="1645" y="3931"><tspan x="1645">七年级生物教学方法有哪些相关文</tspan><tspan x="1645" dy="24">章：</tspan></text>
</g>
<g id="n-k1"><rect class="kb" x="1975" y="3657.5" width="229" height="31" rx="5"/><circle cx="1988" cy="3673" r="4" fill="#c4387e"/><text class="t" x="1998" y="3678.5">初中七年级生物教学重点三篇</text></g>
<g id="n-k2"><rect class="kb" x="1975" y="3723.5" width="252" height="31" rx="5"/><circle cx="1988" cy="3739" r="4" fill="#c4387e"/><text class="t" x="1998" y="3744.5">七年级生物教师教学经验总结5篇</text></g>
<g id="n-k3"><rect class="kb" x="1975" y="3789.5" width="237" height="31" rx="5"/><circle cx="1988" cy="3805" r="4" fill="#c4387e"/><text class="t" x="1998" y="3810.5">七年级生物的教学教案设计5篇</text></g>
<g id="n-k4"><rect class="kb" x="1975" y="3854.5" width="259" height="31" rx="5"/><circle cx="1988" cy="3870" r="4" fill="#c4387e"/><text class="t" x="1998" y="3875.5">初中七年级上册生物教学重点三篇</text></g>
<g id="n-k5"><rect class="kb" x="1975" y="3920.5" width="237" height="31" rx="5"/><circle cx="1988" cy="3936" r="4" fill="#c4387e"/><text class="t" x="1998" y="3941.5">人教版初中七年级生物教案5篇</text></g>
<g id="n-k6"><rect class="kb" x="1975" y="3986.5" width="192" height="31" rx="5"/><circle cx="1988" cy="4002" r="4" fill="#c4387e"/><text class="t" x="1998" y="4007.5">七年级生物教学教案5篇</text></g>
<g id="n-k7"><rect class="kb" x="1975" y="4051.5" width="192" height="31" rx="5"/><circle cx="1988" cy="4067" r="4" fill="#c4387e"/><text class="t" x="1998" y="4072.5">七年级生物教学教案5篇</text></g>
<g id="n-k8"><rect class="kb" x="1975" y="4117.5" width="192" height="31" rx="5"/><circle cx="1988" cy="4133" r="4" fill="#c4387e"/><text class="t" x="1998" y="4138.5">人教七年级生物教案5篇</text></g>
<g id="n-k9"><rect class="kb" x="1975" y="4183.5" width="232" height="31" rx="5"/><circle cx="1988" cy="4199" r="4" fill="#c4387e"/><text class="t" x="1998" y="4204.5">七年级生物教学教案三篇2020</text></g>

</g>
</svg>
